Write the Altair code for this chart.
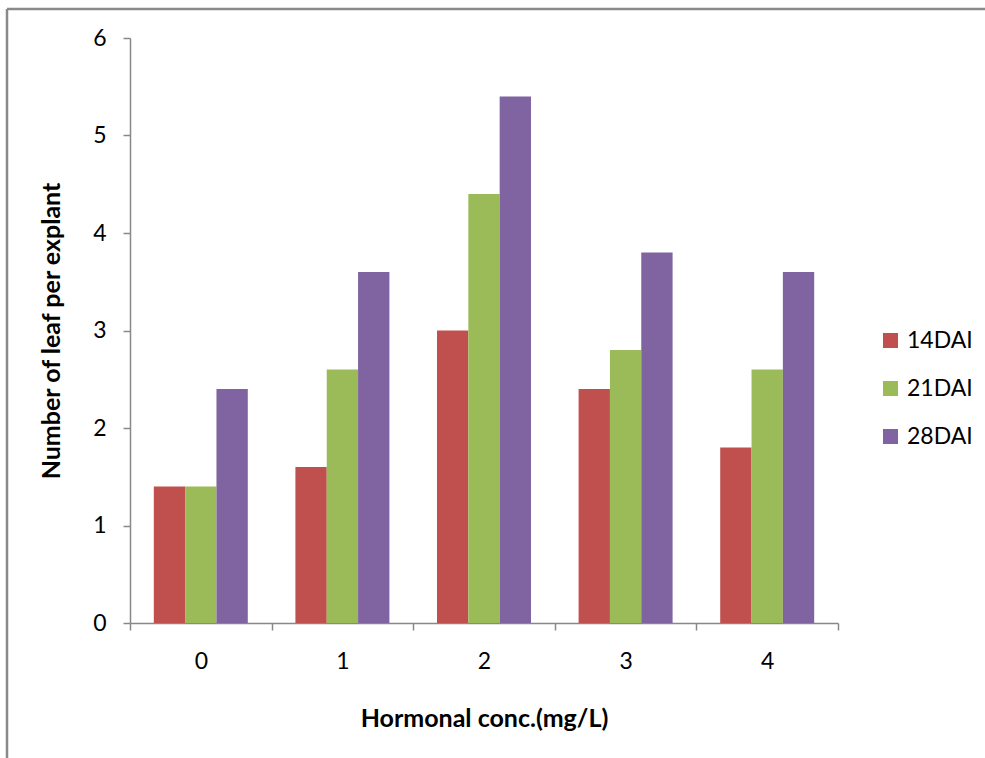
import altair as alt
import pandas as pd

categories = ["0", "1", "2", "3", "4"]
series = ["14DAI", "21DAI", "28DAI"]
v14 = [1.4, 1.6, 3.0, 2.4, 1.8]
v21 = [1.4, 2.6, 4.4, 2.8, 2.6]
v28 = [2.4, 3.6, 5.4, 3.8, 3.6]
colors = ["#C0504D", "#9BBB59", "#8064A2"]

rows = []
for s, vals in zip(series, [v14, v21, v28]):
    for c, v in zip(categories, vals):
        rows.append({"conc": c, "series": s, "value": v})
df = pd.DataFrame(rows)

FONT = "Lato"
W, H = 708, 585
L, T = 130, 38

bars = alt.Chart(df).mark_bar(stroke=None).encode(
    x=alt.X("conc:N", sort=categories,
            scale=alt.Scale(paddingInner=0, paddingOuter=0),
            axis=alt.Axis(title="Hormonal conc.(mg/L)", labelAngle=0, tickBand="extent",
                          domainColor="#888888", tickColor="#888888", domainWidth=1.5, tickWidth=1.5,
                          tickSize=7, labelPadding=20, labelFontSize=23, labelFont=FONT,
                          labelColor="black", titleFont=FONT, titleFontSize=25,
                          titleFontWeight="bold", titleColor="black", titlePadding=33, grid=False)),
    xOffset=alt.XOffset("series:N", sort=series,
                        scale=alt.Scale(paddingOuter=0.76, paddingInner=0)),
    y=alt.Y("value:Q", scale=alt.Scale(domain=[0, 6], nice=False),
            axis=alt.Axis(title="Number of leaf per explant", values=[0, 1, 2, 3, 4, 5, 6],
                          format="d", domainColor="#888888", tickColor="#888888",
                          domainWidth=1.5, tickWidth=1.5, tickSize=7, labelPadding=17,
                          labelFontSize=23, labelFont=FONT, labelColor="black",
                          titleFont=FONT, titleFontSize=25, titleFontWeight="bold",
                          titleColor="black", titlePadding=28, grid=False)),
    color=alt.Color("series:N", sort=series,
                    scale=alt.Scale(domain=series, range=colors),
                    legend=alt.Legend(title=None, orient="none", legendX=749, legendY=291,
                                      symbolType="square", symbolSize=225, symbolStrokeWidth=0,
                                      labelFont=FONT, labelFontSize=23, labelColor="black",
                                      rowPadding=24, labelOffset=5)),
)

frame_top = alt.Chart(pd.DataFrame({"a": [0]})).mark_rule(color="#8a8a8a", strokeWidth=2.5).encode(
    x=alt.value(7 - L), x2=alt.value(1000 - L), y=alt.value(9 - T)
)
frame_left = alt.Chart(pd.DataFrame({"a": [0]})).mark_rule(color="#8a8a8a", strokeWidth=2.5).encode(
    x=alt.value(7 - L), y=alt.value(9 - T), y2=alt.value(770 - T)
)

chart = alt.layer(bars, frame_top, frame_left).properties(
    width=W, height=H,
    autosize=alt.AutoSizeParams(type="none"),
    padding={"left": L, "top": T, "right": 985 - L - W, "bottom": 758 - T - H},
    background="white",
).configure_view(stroke=None)

chart.save("out.html", embed_options={"renderer": "svg", "actions": False})
